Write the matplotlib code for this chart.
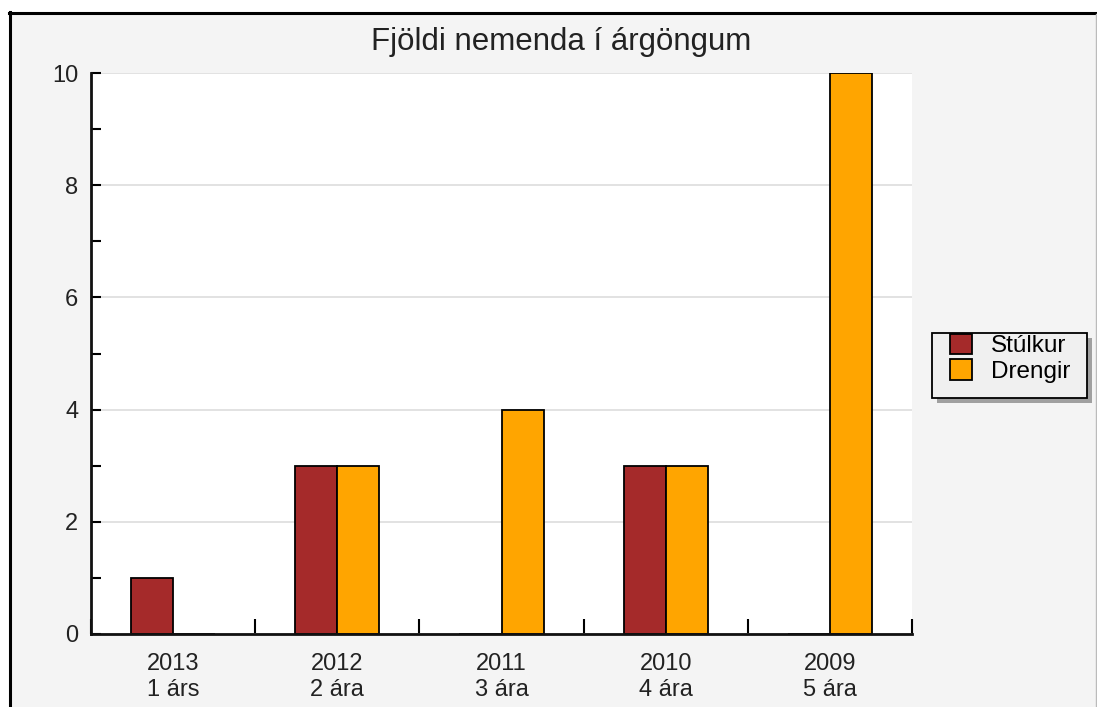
import matplotlib
matplotlib.use("Agg")
import matplotlib.pyplot as plt
from matplotlib.patches import Rectangle
from matplotlib.lines import Line2D
import numpy as np

plt.rcParams['font.family'] = ['Liberation Sans', 'DejaVu Sans']

# Gögn
argangar = ['2013', '2012', '2011', '2010', '2009']
aldur = ['1 árs', '2 ára', '3 ára', '4 ára', '5 ára']
stulkur = [1, 3, 0, 3, 0]
drengir = [0, 3, 4, 3, 10]

W, H = 1097, 707
fig = plt.figure(figsize=(W / 100, H / 100), dpi=100, facecolor='white')

# bakgrunnur og rammi
fig.patches.append(Rectangle((10 / W, 0), (1096 - 10) / W, (H - 13) / H,
                             transform=fig.transFigure, facecolor='#f4f4f4',
                             edgecolor='none', zorder=0))
fig.lines.append(Line2D([10 / W, 10 / W], [0, (H - 12) / H], transform=fig.transFigure,
                        color='black', lw=2.2, zorder=1))
fig.lines.append(Line2D([9 / W, 1097 / W], [(H - 13) / H, (H - 13) / H], transform=fig.transFigure,
                        color='black', lw=2.2, zorder=1))
fig.lines.append(Line2D([1096 / W, 1096 / W], [0, (H - 14) / H], transform=fig.transFigure,
                        color='#bbbbbb', lw=1, zorder=1))

ax = fig.add_axes([91 / W, 1 - 634 / H, (912 - 91) / W, (634 - 73) / H])
ax.set_zorder(2)
ax.set_facecolor('white')

x = np.arange(len(argangar))
bw = 0.256
ax.bar(x - bw / 2, stulkur, bw, color='#a52a2a', edgecolor='black', linewidth=1.3,
       label='Stúlkur', zorder=3)
ax.bar(x + bw / 2, drengir, bw, color='#ffa500', edgecolor='black', linewidth=1.3,
       label='Drengir', zorder=3)

ax.set_xlim(-0.5, len(argangar) - 0.5)
ax.set_ylim(0, 10)

for s in ['top', 'right']:
    ax.spines[s].set_visible(False)
for s in ['left', 'bottom']:
    ax.spines[s].set_linewidth(2)
    ax.spines[s].set_color('#111111')
    ax.spines[s].set_zorder(4)

ax.set_yticks(np.arange(0, 11, 2))
ax.set_yticks(np.arange(0, 11, 1), minor=True)
ax.yaxis.grid(True, which='major', color='#dddddd', linewidth=1.2, zorder=0)
ax.tick_params(axis='y', which='both', direction='in', length=7, width=1.5,
               labelsize=17, pad=9, labelcolor='#222222')

ax.set_xticks(x)
ax.set_xticklabels([f'{a}\n{b}' for a, b in zip(argangar, aldur)])
ax.set_xticks(np.arange(-0.5, len(argangar), 1), minor=True)
ax.tick_params(axis='x', which='major', length=0, labelsize=17, pad=14,
               labelcolor='#222222')
ax.tick_params(axis='x', which='minor', direction='in', length=11, width=1.5)
for t in ax.get_xticklabels():
    t.set_linespacing(1.2)

fig.text(561 / W, 1 - 42 / H, 'Fjöldi nemenda í árgöngum', ha='center', va='center',
         fontsize=22.5, color='#222222', zorder=3)

# skýringar með eigin ramma og skugga
leg = fig.legend(loc='upper left', bbox_to_anchor=(950 / W, 1 - 334 / H),
                 fontsize=17.5, frameon=False, handlelength=0.9,
                 handleheight=0.9, handletextpad=0.8, labelspacing=0.08,
                 borderpad=0, borderaxespad=0)
leg.set_zorder(6)
fig.patches.append(Rectangle((937, H - 403), 155, 65, transform=None,
                             facecolor='#a0a0a0', edgecolor='none', zorder=4))
fig.patches.append(Rectangle((932, H - 398), 155, 65, transform=None,
                             facecolor='#f0f0f0', edgecolor='black', linewidth=1.3,
                             zorder=5))

fig.savefig('out.png', dpi=100, facecolor=fig.get_facecolor())
